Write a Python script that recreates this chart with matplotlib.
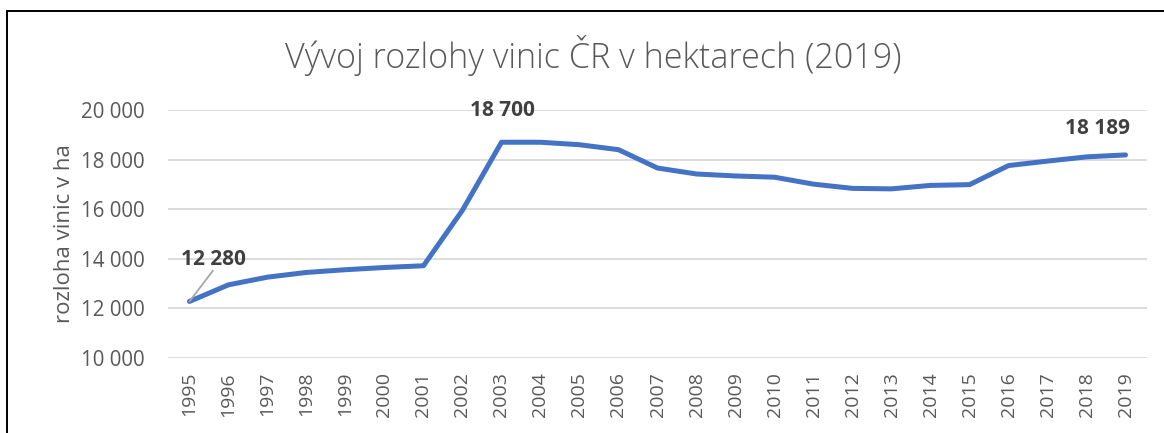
import matplotlib
matplotlib.use("Agg")
import matplotlib.pyplot as plt
from matplotlib.patches import Rectangle

years = [str(y) for y in range(1995, 2020)]
values = [12280, 12950, 13260, 13450, 13560, 13650, 13720, 15960, 18700, 18700,
          18600, 18400, 17660, 17420, 17340, 17290, 17010, 16840, 16820, 16960,
          16990, 17760, 17940, 18110, 18189]
yticks = [10000, 12000, 14000, 16000, 18000, 20000]
title = "Vývoj rozlohy vinic ČR v hektarech (2019)"
ylabel = "rozloha vinic v ha"

W, H = 1164, 433
fig = plt.figure(figsize=(W / 100, H / 100), dpi=100)
plt.rcParams['font.family'] = ['Open Sans', 'DejaVu Sans']

ax = fig.add_axes([168 / W, 1 - 358 / H, (1147 - 168) / W, (358 - 110) / H])
x = list(range(len(years)))
ax.plot(x, values, color='#4472C4', linewidth=3.6, solid_capstyle='round', solid_joinstyle='round', zorder=3)
ax.set_xlim(-0.55, len(years) - 0.45)
ax.set_ylim(10000, 20000)
ax.set_yticks(yticks)

def fmt(v):
    return f"{v:,}".replace(",", " ")

ax.set_yticklabels([fmt(v) for v in yticks], fontsize=14.8, color='#595959')
ax.set_xticks(x)
ax.set_xticklabels(years, rotation=90, fontsize=14, color='#595959')
ax.tick_params(length=0)
ax.tick_params(axis='x', pad=10)
ax.tick_params(axis='y', pad=17)
for s in ax.spines.values():
    s.set_visible(False)
ax.grid(axis='y', color='#D9D9D9', linewidth=1.3)
ax.set_axisbelow(True)
ax.set_ylabel(ylabel, fontsize=16, color='#595959', labelpad=4)

lab_kw = dict(fontsize=15, fontweight='bold', color='#404040', ha='center', va='center')
ax.annotate(fmt(values[0]), xy=(0, values[0]), xytext=(17.5, 30.5), textcoords='offset points', **lab_kw,
            arrowprops=dict(arrowstyle='-', color='#A6A6A6', lw=1.3, patchA=None,
                            relpos=(0.5, 0.0), shrinkA=1, shrinkB=0))
ax.annotate(fmt(values[8]), xy=(8, values[8]), xytext=(0.5, 23), textcoords='offset points', **lab_kw)
ax.annotate(fmt(values[-1]), xy=(24, values[-1]), xytext=(-20, 19), textcoords='offset points', **lab_kw)

fig.text(593 / W, 1 - 55 / H, title, fontsize=24.6, color='#595959', ha='center', va='center',
         fontweight='light')

fig.patches.append(Rectangle((7 / W, -0.05), 1.2, 1 - 11 / H + 0.05, transform=fig.transFigure,
                             fill=False, edgecolor='#000000', linewidth=1.4))

fig.savefig('out.png', dpi=100)
